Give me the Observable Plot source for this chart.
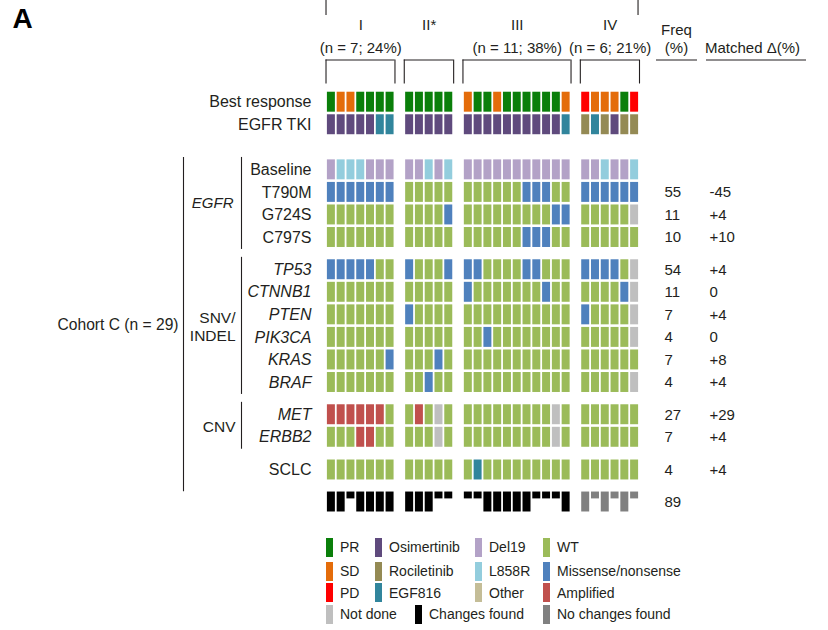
<!DOCTYPE html>
<html><head><meta charset="utf-8">
<script src="https://cdn.jsdelivr.net/npm/d3@7"></script>
<script src="https://cdn.jsdelivr.net/npm/@observablehq/plot@0.6"></script>
<style>
body{margin:0;background:#fff;font-family:"Liberation Sans",Arial,Helvetica,sans-serif;color:#231f20;}
#wrap{position:relative;width:828px;height:630px;overflow:hidden;}
#legend{position:absolute;left:0;top:532px;width:828px;height:98px;font-size:14px;}
.li{position:absolute;display:flex;align-items:center;height:19px;white-space:nowrap;}
.sw{width:7px;height:19px;margin-right:7px;flex:none;}
</style></head><body>
<div id="wrap"><div id="chart"></div><div id="legend"></div></div>
<script>
// ---------- data ----------
const groupNames = ["I", "II*", "III", "IV"];
const groupNotes = ["(n = 7; 24%)", "", "(n = 11; 38%)", "(n = 6; 21%)"];
const groupSizes = [7, 5, 11, 6];

const rowNames = ["Best response", "EGFR TKI", "Baseline", "T790M", "G724S", "C797S",
  "TP53", "CTNNB1", "PTEN", "PIK3CA", "KRAS", "BRAF", "MET", "ERBB2", "SCLC", ""];
const rowBlock = [0, 0, 1, 1, 1, 1, 2, 2, 2, 2, 2, 2, 3, 3, 4, 5];
const blockNames = ["", "EGFR", "SNV/\nINDEL", "CNV", "", ""];
const freqValues = ["", "", "", "55", "11", "10", "54", "11", "7", "4", "7", "4", "27", "7", "4", "89"];
const matchedValues = ["", "", "", "-45", "+4", "+10", "+4", "0", "+4", "0", "+8", "+4", "+29", "+4", "+4", ""];

const bestResponse = ["PR","SD","SD","PR","PR","PR","PR", "PR","PR","PR","PR","PR",
  "SD","PR","PR","SD","PR","PR","PR","PR","PR","PR","SD", "PD","SD","SD","SD","PR","PD"];
const egfrTki = ["Osi","Osi","Osi","Osi","Osi","EGF","EGF", "Osi","Osi","Osi","Osi","Osi",
  "Osi","Osi","Osi","Osi","Osi","Osi","Osi","Osi","Osi","Osi","EGF", "Roc","EGF","Roc","Osi","Roc","Roc"];
const baseline = ["Del","L858","L858","L858","Del","Del","Del", "Del","Del","L858","Del","L858",
  "Del","Del","Del","Del","Del","Del","Del","Del","Del","Del","Del", "Del","Del","L858","Del","Del","L858"];
const t790m = ["Mis","Mis","Mis","Mis","Mis","Mis","Mis", "WT","WT","WT","WT","WT",
  "WT","WT","WT","WT","WT","WT","Mis","Mis","Mis","WT","WT", "Mis","Mis","Mis","Mis","Mis","Mis"];
const g724s = ["WT","WT","WT","WT","WT","WT","WT", "WT","WT","WT","WT","Mis",
  "WT","WT","WT","WT","WT","WT","WT","WT","WT","Mis","Mis", "WT","WT","WT","WT","WT","ND"];
const c797s = ["WT","WT","WT","WT","WT","WT","WT", "WT","WT","WT","WT","WT",
  "WT","WT","WT","WT","WT","WT","Mis","Mis","Mis","WT","WT", "WT","WT","WT","WT","WT","WT"];
const tp53 = ["Mis","Mis","Mis","Mis","Mis","WT","WT", "Mis","WT","WT","WT","Mis",
  "Mis","Mis","WT","WT","WT","WT","Mis","Mis","WT","WT","WT", "Mis","Mis","Mis","Mis","WT","ND"];
const ctnnb1 = ["WT","WT","WT","WT","WT","WT","WT", "WT","WT","WT","WT","WT",
  "Mis","WT","WT","WT","WT","WT","WT","WT","Mis","WT","WT", "WT","WT","WT","WT","Mis","ND"];
const pten = ["WT","WT","WT","WT","WT","WT","WT", "Mis","WT","WT","WT","WT",
  "WT","WT","WT","WT","WT","WT","WT","WT","WT","WT","WT", "Mis","WT","WT","WT","WT","ND"];
const pik3ca = ["WT","WT","WT","WT","WT","WT","WT", "WT","WT","WT","WT","WT",
  "WT","WT","Mis","WT","WT","WT","WT","WT","WT","WT","WT", "WT","WT","WT","WT","WT","ND"];
const kras = ["WT","WT","WT","WT","WT","WT","Mis", "WT","WT","WT","Mis","WT",
  "WT","WT","WT","WT","WT","WT","WT","WT","WT","WT","WT", "WT","WT","WT","WT","WT","WT"];
const braf = ["WT","WT","WT","WT","WT","WT","WT", "WT","WT","Mis","WT","WT",
  "WT","WT","WT","WT","WT","WT","WT","WT","WT","WT","WT", "WT","WT","WT","WT","WT","ND"];
const met = ["Amp","Amp","Amp","Amp","Amp","Amp","WT", "WT","Amp","WT","ND","WT",
  "WT","WT","WT","WT","WT","WT","WT","WT","WT","ND","WT", "WT","WT","WT","WT","WT","WT"];
const erbb2 = ["WT","WT","WT","Amp","Amp","WT","WT", "WT","WT","WT","ND","WT",
  "WT","WT","WT","WT","WT","WT","WT","WT","WT","ND","WT", "WT","WT","WT","WT","WT","WT"];
const sclc = ["WT","WT","WT","WT","WT","WT","WT", "WT","WT","WT","WT","WT",
  "WT","Pos","WT","WT","WT","WT","WT","WT","WT","WT","WT", "WT","WT","WT","WT","WT","WT"];
// CF = changes found (full bar), cf = changes found (short bar), NC / nc = no changes found
const summary = ["CF","CF","cf","CF","CF","CF","CF", "CF","CF","CF","cf","cf",
  "cf","cf","CF","CF","CF","CF","CF","cf","cf","cf","CF", "NC","nc","NC","nc","NC","nc"];

const rowValues = [bestResponse, egfrTki, baseline, t790m, g724s, c797s, tp53, ctnnb1,
  pten, pik3ca, kras, braf, met, erbb2, sclc, summary];

const legendItems = [
  [["PR","PR"],["Osi","Osimertinib"],["Del","Del19"],["WT","WT"]],
  [["SD","SD"],["Roc","Rociletinib"],["L858","L858R"],["Mis","Missense/nonsense"]],
  [["PD","PD"],["EGF","EGF816"],["Oth","Other"],["Amp","Amplified"]],
  [["ND","Not done"],["CF","Changes found"],["NC","No changes found"]]
];

// ---------- styles / layout ----------
const colors = {PR:"#0a7f0a", SD:"#e46c0a", PD:"#ff0000", Osi:"#5f4a7d", Roc:"#948a54", EGF:"#31859c",
  Del:"#b3a2c7", L858:"#93cddd", Oth:"#c4bd97", WT:"#9bbb59", Mis:"#4f81bd", Amp:"#c0504d",
  ND:"#bfbfbf", CF:"#000000", cf:"#000000", NC:"#808080", nc:"#808080", Pos:"#31859c"};
const italicRows = new Set(["TP53","CTNNB1","PTEN","PIK3CA","KRAS","BRAF","MET","ERBB2"]);
const blockExtra = [0, 1, 0.43, 0.43, 0.45, 0.42];

// column slots (one empty slot between groups)
const groupStart = [];
{ let s = 0; groupSizes.forEach((n, g) => { groupStart.push(s); s += n + 1; }); }
const colSlot = [];
groupSizes.forEach((n, g) => { for (let j = 0; j < n; j++) colSlot.push(groupStart[g] + j); });
const nSlots = groupStart[groupStart.length - 1] + groupSizes[groupSizes.length - 1];

// row positions
const rowY = rowNames.map((_, i) => {
  let extra = 0; for (let b = 1; b <= rowBlock[i]; b++) extra += blockExtra[b];
  return i + extra;
});

const cells = [];
rowValues.forEach((vals, r) => vals.forEach((code, c) => {
  cells.push({row: r, y: rowY[r], slot: colSlot[c], code, short: code === "cf" || code === "nc"});
}));

const rows = rowNames.map((name, i) => ({name, y: rowY[i], freq: freqValues[i], matched: matchedValues[i]}));
const blocks = [1, 2, 3].map(b => {
  const ys = rowY.filter((_, i) => rowBlock[i] === b);
  return {name: blockNames[b], y1: d3.min(ys), y2: d3.max(ys), italic: b === 1};
});
const groups = groupNames.map((name, g) => ({name, note: groupNotes[g],
  x1: groupStart[g], x2: groupStart[g] + groupSizes[g], xc: groupStart[g] + groupSizes[g] / 2}));

const H = 532;
const rowPx = 22.55, firstRowPx = 101.7;
const yDomain = [-firstRowPx / rowPx, (H - firstRowPx) / rowPx];
const pxToY = p => (p - firstRowPx) / rowPx;
const slotPx = (639 - 326) / nSlots;
const pxToX = p => (p - 326) / slotPx;

const font = "Liberation Sans, Arial, sans-serif";
const stroke = "#231f20";

const outerTop = rowY[2] - 0.55, outerBottom = rowY[15] - 0.45;

const chart = Plot.plot({
  width: 828, height: H,
  marginLeft: 326, marginRight: 828 - 639, marginTop: 0, marginBottom: 0,
  style: {fontFamily: font, background: "#fff", color: "#231f20", overflow: "visible"},
  x: {domain: [0, nSlots], axis: null},
  y: {domain: yDomain, reverse: true, axis: null},
  color: {domain: Object.keys(colors), range: Object.values(colors)},
  marks: [
    // cells
    Plot.rect(cells, {
      x1: "slot", x2: d => d.slot + 1,
      y1: d => d.y - 0.5, y2: d => d.short ? d.y - 0.5 + 0.42 : d.y + 0.5,
      fill: "code", insetLeft: 0.9, insetRight: 0.9, insetTop: 1.3, insetBottom: 1.3
    }),
    // row labels
    Plot.text(rows.filter(d => d.name && !italicRows.has(d.name)), {y: "y", text: "name", frameAnchor: "left",
      dx: -15, textAnchor: "end", fontSize: 16, fill: stroke}),
    Plot.text(rows.filter(d => italicRows.has(d.name)), {y: "y", text: "name", frameAnchor: "left",
      dx: -15, textAnchor: "end", fontSize: 16, fontStyle: "italic", fill: stroke}),
    // freq & matched
    Plot.text(rows.filter(d => d.freq), {y: "y", text: "freq", frameAnchor: "right", dx: 25,
      textAnchor: "start", fontSize: 15, fill: stroke}),
    Plot.text(rows.filter(d => d.matched), {y: "y", text: "matched", frameAnchor: "right", dx: 70,
      textAnchor: "start", fontSize: 15, fill: stroke}),
    // block labels and lines
    Plot.text(blocks.filter(d => d.italic), {y: d => (d.y1 + d.y2) / 2, text: "name", frameAnchor: "left",
      dx: -93, textAnchor: "end", fontSize: 15, fontStyle: "italic", fill: stroke}),
    Plot.text(blocks.filter(d => !d.italic), {y: d => (d.y1 + d.y2) / 2, text: "name", frameAnchor: "left",
      dx: -91, textAnchor: "end", fontSize: 15.5, lineHeight: 1.18, fill: stroke}),
    Plot.ruleX(blocks, {x: 0, dx: -85, y1: d => d.y1 - 0.55, y2: d => d.y2 + 0.53, stroke, strokeWidth: 1.1}),
    Plot.ruleX([0], {x: 0, dx: -143, y1: outerTop, y2: outerBottom, stroke, strokeWidth: 1.1}),
    Plot.text(["Cohort C (n = 29)"], {y: (outerTop + outerBottom) / 2, text: d => d, frameAnchor: "left",
      dx: -148, textAnchor: "end", fontSize: 15.6, fill: stroke}),
    // group headers
    Plot.text(groups, {x: "xc", text: "name", frameAnchor: "top", dy: 25, lineAnchor: "middle", fontSize: 15, fill: stroke}),
    Plot.text(groups.filter(d => d.note), {x: "xc", text: "note", frameAnchor: "top", dy: 48, lineAnchor: "middle", fontSize: 15, fill: stroke}),
    // group brackets
    Plot.ruleY(groups, {y: pxToY(59.5), x1: d => d.x1 - 0.05, x2: "x2", stroke, strokeWidth: 1.1}),
    Plot.ruleX(groups, {x: d => d.x1 - 0.05, y1: pxToY(59.5), y2: pxToY(83.5), stroke, strokeWidth: 1.1}),
    Plot.ruleX(groups, {x: "x2", y1: pxToY(59.5), y2: pxToY(83.5), stroke, strokeWidth: 1.1}),
    // spanning bracket stubs at top
    Plot.ruleX([groups[0].x1 - 0.05, groups[3].x2 - 0.15], {x: d => d, y1: yDomain[0], y2: pxToY(15), stroke, strokeWidth: 1.1}),
    // right headers
    Plot.text(["Freq"], {text: d => d, frameAnchor: "top-right", dx: 37, dy: 30, textAnchor: "middle", lineAnchor: "middle", fontSize: 15, fill: stroke}),
    Plot.text(["(%)"], {text: d => d, frameAnchor: "top-right", dx: 37, dy: 48, textAnchor: "middle", lineAnchor: "middle", fontSize: 15, fill: stroke}),
    Plot.text(["Matched Δ(%)"], {text: d => d, frameAnchor: "top-right", dx: 113, dy: 48, textAnchor: "middle", lineAnchor: "middle", fontSize: 15, fill: stroke}),
    Plot.ruleY([0], {y: pxToY(59.5), x1: pxToX(656), x2: pxToX(697), stroke, strokeWidth: 1.1}),
    Plot.ruleY([0], {y: pxToY(59.5), x1: pxToX(706), x2: pxToX(806), stroke, strokeWidth: 1.1}),
    // panel letter
    Plot.text(["A"], {text: d => d, frameAnchor: "top-left", dx: -314, dy: 19, textAnchor: "start", lineAnchor: "middle",
      fontSize: 28, fontWeight: "bold", fill: "#000"})
  ]
});
document.getElementById("chart").appendChild(chart);

// ---------- legend ----------
const legendCols = [[326, 375, 475, 543], [326, 375, 475, 543], [326, 375, 475, 543], [326, 415, 543]];
const legendTops = [5.5, 29.5, 51, 72.5];
const legend = document.getElementById("legend");
legendItems.forEach((row, r) => row.forEach(([code, label], c) => {
  const el = document.createElement("div");
  el.className = "li";
  el.style.left = legendCols[r][c] + "px";
  el.style.top = legendTops[r] + "px";
  const sw = document.createElement("span");
  sw.className = "sw"; sw.style.background = colors[code];
  const tx = document.createElement("span"); tx.textContent = label;
  el.appendChild(sw); el.appendChild(tx);
  legend.appendChild(el);
}));
</script>
</body></html>
